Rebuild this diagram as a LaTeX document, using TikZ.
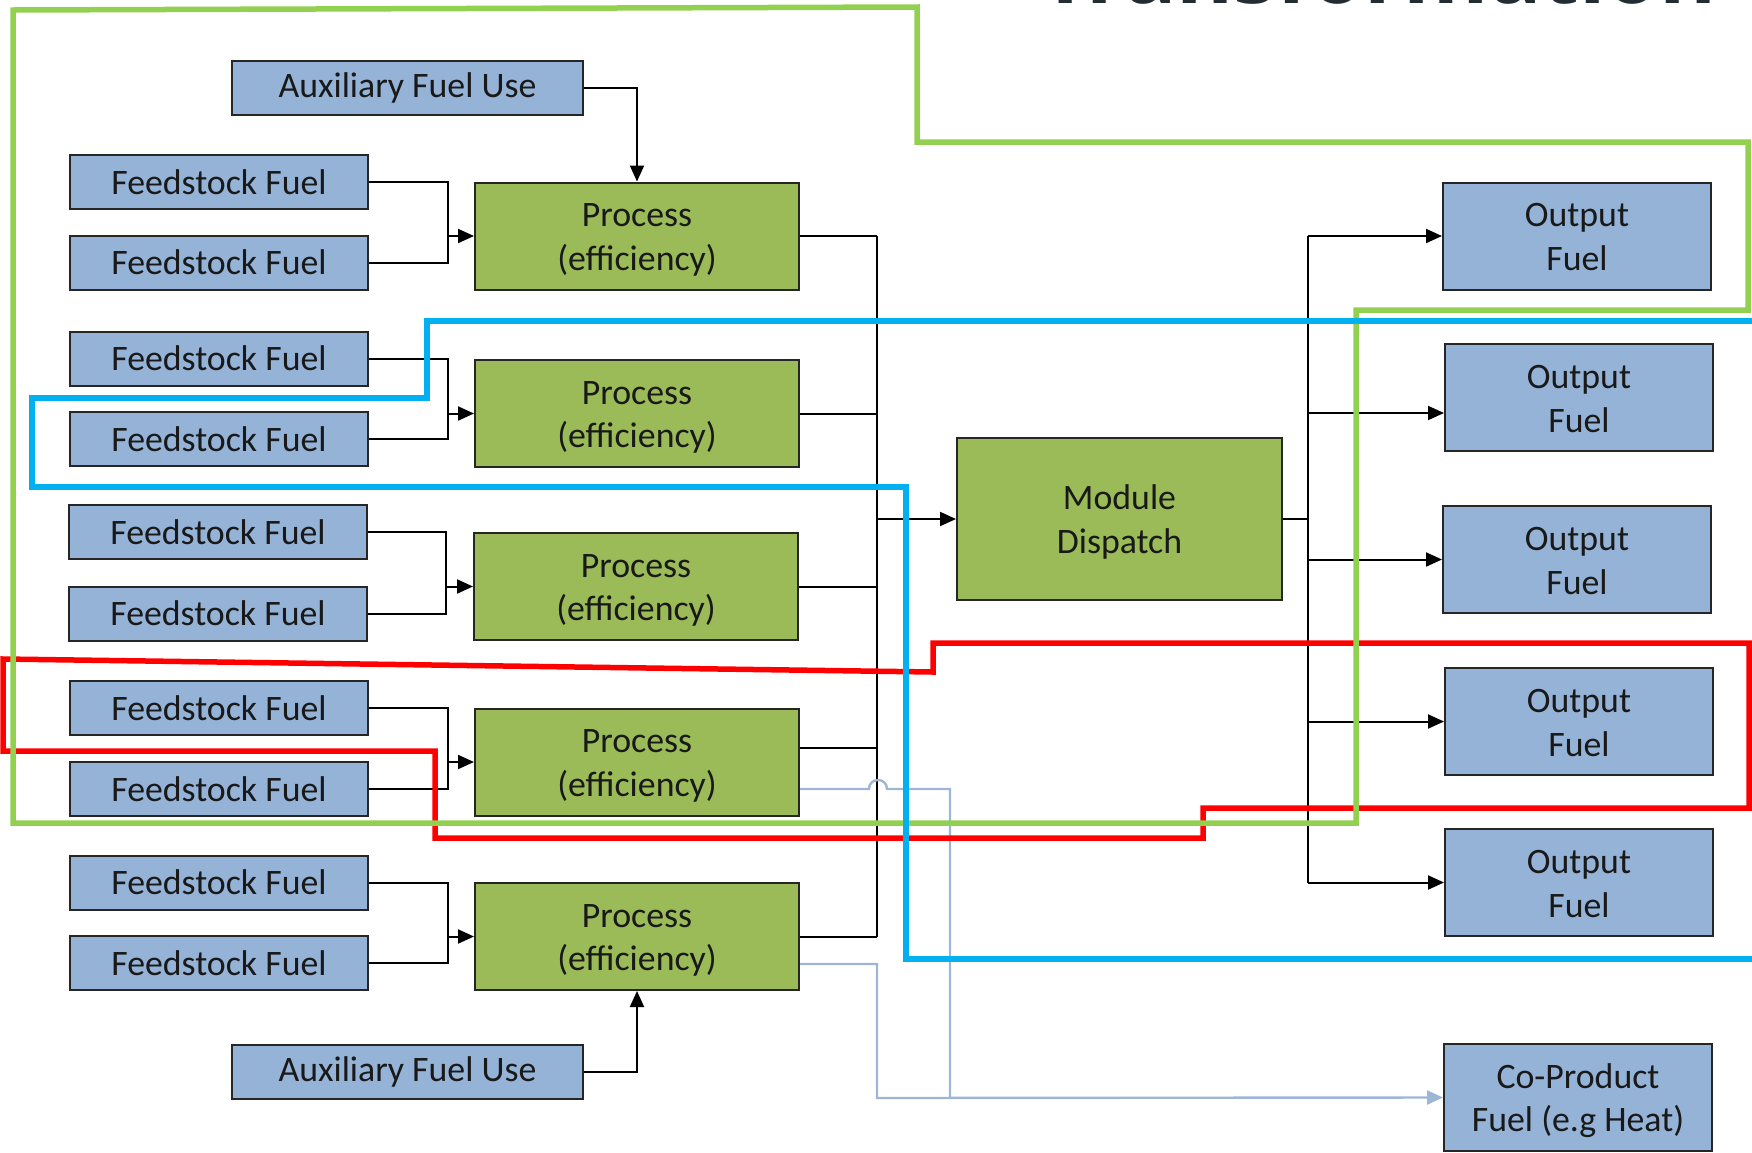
\documentclass[tikz,border=0pt]{standalone}
\usepackage{graphicx}
\usepackage{fontspec}
\setmainfont{Carlito}
\newfontfamily\titlefont{Open Sans}
\usetikzlibrary{arrows.meta,calc}
\definecolor{boxblue}{HTML}{95B3D7}
\definecolor{boxgreen}{HTML}{9BBB59}
\definecolor{regiongreen}{HTML}{92D050}
\definecolor{regionblue}{HTML}{00B0F0}
\definecolor{regionred}{HTML}{FF0000}
\definecolor{coline}{HTML}{9DB6D6}
\definecolor{titlegray}{HTML}{222C33}
\newcommand{\topstrut}{\rule{0pt}{15.5pt}}
\newcommand{\outstrut}{\rule{0pt}{12.9pt}}
\begin{document}
\begin{tikzpicture}[x=0.5pt,y=-0.5pt,
  base/.style={draw=black!85, line width=1pt, inner sep=0pt, align=center, text=black!90, font=\fontsize{17.9pt}{21.8pt}\selectfont},
  bluebox/.style={base, fill=boxblue},
  greenbox/.style={base, fill=boxgreen},
  feed/.style={bluebox, minimum width=149pt, minimum height=27pt},
  aux/.style={bluebox, minimum width=175.5pt, minimum height=27pt},
  proc/.style={greenbox, minimum width=162pt, minimum height=53.5pt},
  outbox/.style={bluebox, minimum width=134pt, minimum height=53.5pt},
  conn/.style={line width=1pt, draw=black},
  arr/.style={conn, -{Triangle[length=8pt,width=7pt]}},
  coarr/.style={line width=1.2pt, draw=coline},
  region/.style={line width=2.75pt, line join=miter}
]
\useasboundingbox (0,0) rectangle (1752,1152);
\clip (0,0) rectangle (1752,1152);

% title (cut off at the top)
\node[anchor=base east, inner sep=0pt, text=titlegray] (title) at (1717,3.5) {\resizebox{338pt}{!}{\titlefont\bfseries Transformation}};

% auxiliary
\node[aux] (aux1) at (407.5,88) {Auxiliary Fuel Use};
\node[aux] (aux2) at (407.5,1071.5) {Auxiliary Fuel Use};

% feedstock
\node[feed] (f1) at (219,182) {Feedstock Fuel};
\node[feed] (f2) at (219,262.5) {Feedstock Fuel};
\node[feed] (f3) at (219,358.5) {Feedstock Fuel};
\node[feed] (f4) at (219,439) {Feedstock Fuel};
\node[feed] (f5) at (218,532) {Feedstock Fuel};
\node[feed] (f6) at (218,613.5) {Feedstock Fuel};
\node[feed] (f7) at (219,708) {Feedstock Fuel};
\node[feed] (f8) at (219,789) {Feedstock Fuel};
\node[feed] (f9) at (219,882.5) {Feedstock Fuel};
\node[feed] (f10) at (219,963) {Feedstock Fuel};

% processes
\node[proc] (p1) at (637,236) {\topstrut Process\\(efficiency)};
\node[proc] (p2) at (637,413.5) {\topstrut Process\\(efficiency)};
\node[proc] (p3) at (636,586.5) {\topstrut Process\\(efficiency)};
\node[proc] (p4) at (637,762) {\topstrut Process\\(efficiency)};
\node[proc] (p5) at (637,936.5) {\topstrut Process\\(efficiency)};

% module dispatch
\node[greenbox, minimum width=162.5pt, minimum height=81pt] (md) at (1119.5,519) {\topstrut Module\\Dispatch};

% outputs
\node[outbox] (o1) at (1577,236) {\outstrut Output\\Fuel};
\node[outbox] (o2) at (1579,397.5) {\outstrut Output\\Fuel};
\node[outbox] (o3) at (1577,559.5) {\outstrut Output\\Fuel};
\node[outbox] (o4) at (1579,721.5) {\outstrut Output\\Fuel};
\node[outbox] (o5) at (1579,882.5) {\outstrut Output\\Fuel};
\node[outbox] (co) at (1578,1097.5) {\topstrut Co-Product\\Fuel (e.g Heat)};

% helper coordinates
\coordinate (b1) at (448,236);
\coordinate (b2) at (448,413.5);
\coordinate (b3) at (446,586.5);
\coordinate (b4) at (448,762);
\coordinate (b5) at (448,936.5);
\coordinate (busTop) at (877,236);
\coordinate (busBot) at (877,936.5);
\coordinate (bus2Top) at (1308,236);
\coordinate (bus2Bot) at (1308,882.5);
\coordinate (o2in) at ([yshift=-7.75pt]o2.west);
\coordinate (p4out) at ([yshift=7pt]p4.east);
\coordinate (p4co) at ([yshift=-13.5pt]p4.east);
\coordinate (p5co) at ([yshift=-13.75pt]p5.east);
\coordinate (bumpA) at (869,789);
\coordinate (bumpB) at (887,789);
\coordinate (jr) at (950,1098);
\coordinate (jl) at (877,1098);

% auxiliary connectors
\draw[arr] (aux1.east) -| (p1.north);
\draw[arr] (aux2.east) -| (p5.south);

% feedstock brackets
\draw[conn] (f1.east) -| (b1) |- (f2.east);
\draw[arr] (b1) -- (p1.west);
\draw[conn] (f3.east) -| (b2) |- (f4.east);
\draw[arr] (b2) -- (p2.west);
\draw[conn] (f5.east) -| (b3) |- (f6.east);
\draw[arr] (b3) -- (p3.west);
\draw[conn] (f7.east) -| (b4) |- (f8.east);
\draw[arr] (b4) -- (p4.west);
\draw[conn] (f9.east) -| (b5) |- (f10.east);
\draw[arr] (b5) -- (p5.west);

% process outputs to bus
\draw[conn] (busTop) -- (busBot);
\draw[conn] (p1.east) -- (p1.east -| busTop);
\draw[conn] (p2.east) -- (p2.east -| busTop);
\draw[conn] (p3.east) -- (p3.east -| busTop);
\draw[conn] (p4out) -- (p4out -| busTop);
\draw[conn] (p5.east) -- (p5.east -| busTop);
\draw[arr] (busTop |- md.west) -- (md.west);

% dispatch to outputs
\draw[conn] (md.east) -- (md.east -| bus2Top);
\draw[conn] (bus2Top) -- (bus2Bot);
\draw[arr] (bus2Top) -- (o1.west);
\draw[arr] (o2in -| bus2Top) -- (o2in);
\draw[arr] (o3.west -| bus2Top) -- (o3.west);
\draw[arr] (o4.west -| bus2Top) -- (o4.west);
\draw[arr] (o5.west -| bus2Top) -- (o5.west);

% co-product lines
\draw[coarr] (p4co) -- (bumpA) .. controls (869,777) and (887,777) .. (bumpB) -- (950,789) -- (jr);
\draw[coarr, -{Triangle[length=8pt,width=7pt]}] (p5co) -| (jl) -- (co.west);

% regions
\draw[region, regionred] (3,659) -- (933,672) -- (933,643) -- (1749,643) -- (1749,808) -- (1203,808) -- (1203,838) -- (435,838) -- (435,751) -- (3,751) -- cycle;
\draw[region, regiongreen] (13,10) -- (917,7) -- (917,142) -- (1748,142) -- (1748,310) -- (1356,310) -- (1356,823) -- (13,823) -- cycle;
\draw[region, regionblue] (1770,321) -- (427,321) -- (427,398) -- (32,398) -- (32,487) -- (906,487) -- (906,959) -- (1770,959);
\end{tikzpicture}
\end{document}
